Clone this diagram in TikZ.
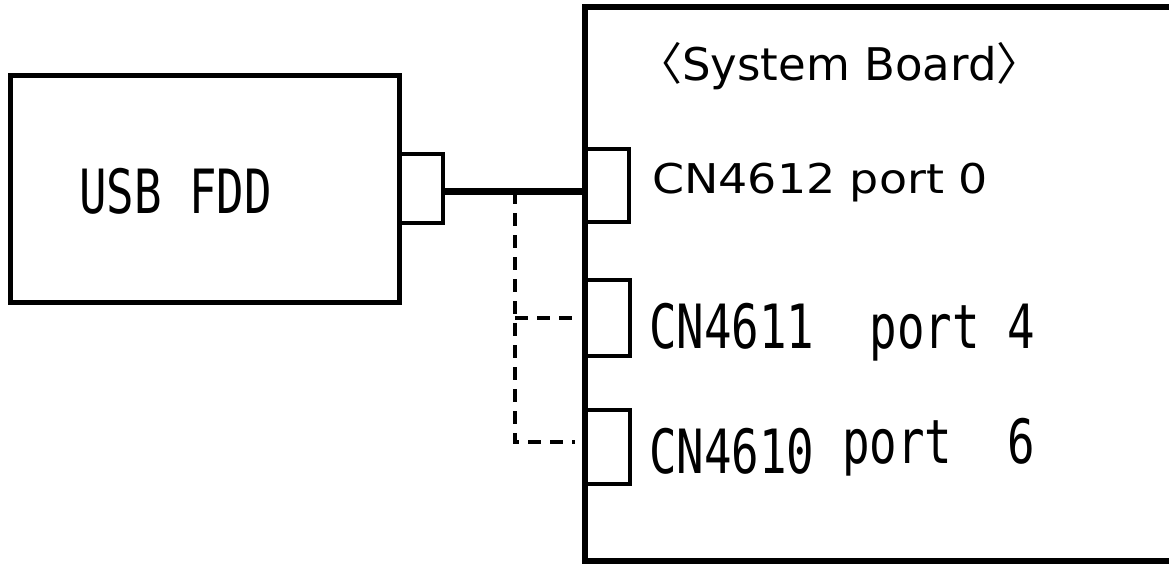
\documentclass[tikz,border=0pt]{standalone}
\usepackage{fontspec}
\usepackage{graphicx}
\newfontfamily\gothsans{DejaVu Sans}
\newfontfamily\gothmono{DejaVu Sans Mono}
\newfontfamily\cjk{Noto Sans CJK JP}
\newcommand{\narrowtxt}[1]{\scalebox{0.75}[1]{#1}}
\begin{document}
\begin{tikzpicture}[x=1pt,y=-1pt,
  box/.style={draw,line width=5pt,inner sep=0pt,outer sep=0pt},
  board/.style={draw,line width=6pt,inner sep=0pt,outer sep=0pt},
  conn/.style={draw,line width=4pt,inner sep=0pt,outer sep=0pt,minimum width=44pt,minimum height=72pt},
  cable/.style={line width=7pt},
  dashline/.style={line width=4.5pt,dash pattern=on 13pt off 9pt,shorten >=10pt},
  monolab/.style={inner sep=0pt,anchor=base west,font=\gothmono\fontsize{61}{61}\selectfont},
  proplab/.style={inner sep=0pt,anchor=base west,font=\gothsans\fontsize{41}{41}\selectfont}]
\useasboundingbox (0,0) rectangle (1169,563);
\clip (0,0) rectangle (1169,563);

\node[box,minimum width=389pt,minimum height=227pt] (fdd) at (204.5,188.5) {};
\node[conn,anchor=west,minimum height=69pt] (fddcn) at (fdd.east) {};
\node[board,minimum width=590pt,minimum height=554pt] (sysboard) at (880,284) {};
\node[conn,anchor=west,minimum height=73pt] (cn4612) at (585,185.5) {};
\node[conn,anchor=west,minimum width=45pt,minimum height=76pt] (cn4611) at (585,318) {};
\node[conn,anchor=west,minimum width=45pt,minimum height=74pt] (cn4610) at (585,447) {};

\coordinate (tap) at (515,191);
\draw[cable] (fddcn.east |- tap) -- (tap -| sysboard.west);
\draw[dashline] (tap) |- ([yshift=5pt]cn4610.west);
\draw[dashline] (tap |- cn4611.west) -- (cn4611.west);

\node[monolab] (fddtxt) at (79,213) {\narrowtxt{USB FDD}};
\node[proplab,font=\cjk\fontsize{45}{45}\selectfont] (boardtxt) at (637,80) {〈{\gothsans System Board}〉};
\node[proplab] (cn4612txt) at (652,193) {\scalebox{1.12}[1]{CN4612 port 0}};
\node[monolab] (cn4611txt) at (649,348) {\narrowtxt{CN4611~~port 4}};
\node[monolab] (cn4610txt) at (649,473) {\narrowtxt{CN4610 \raisebox{10pt}{port~~6}}};
\end{tikzpicture}
\end{document}
